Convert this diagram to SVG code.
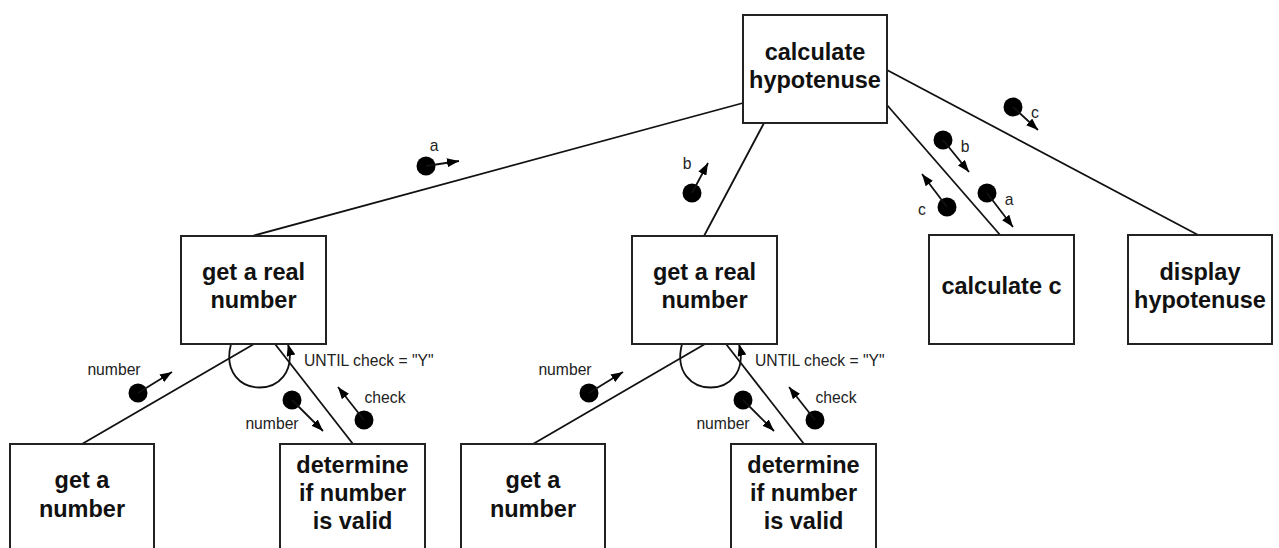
<svg xmlns="http://www.w3.org/2000/svg" width="1279" height="548" viewBox="0 0 1279 548">
<defs>
<style>
.box{fill:#fff;stroke:#222;stroke-width:2}
.t{font-family:"Liberation Sans",Arial,sans-serif;font-weight:bold;font-size:23.5px;fill:#111;text-anchor:middle}
.s{font-family:"Liberation Sans",Arial,sans-serif;font-size:15.7px;fill:#222}
.m{text-anchor:middle}
.ln{stroke:#111;stroke-width:1.8;fill:none}
.df{stroke:#111;stroke-width:1.8;fill:none;marker-end:url(#ah)}
.dot{fill:#000}
</style>
<marker id="ah" markerUnits="userSpaceOnUse" markerWidth="12" markerHeight="9" refX="12" refY="4.5" orient="auto">
<path d="M0,0 L12,4.5 L0,9 z" fill="#000"/>
</marker>
</defs>
<g id="connectors">
<line class="ln" x1="743" y1="103" x2="252" y2="236"/>
<line class="ln" x1="764" y1="123" x2="704" y2="236"/>
<line class="ln" x1="887" y1="105" x2="1001" y2="236"/>
<line class="ln" x1="887" y1="70" x2="1200" y2="236"/>
<line class="ln" x1="254" y1="344" x2="82" y2="444"/>
<line class="ln" x1="275" y1="344" x2="353" y2="444"/>
<line class="ln" x1="705" y1="344" x2="533" y2="444"/>
<line class="ln" x1="726" y1="344" x2="804" y2="444"/>
<path class="df" d="M231 344 C216 402 303 402 288 344"/>
<path class="df" d="M682 344 C667 402 754 402 739 344"/>
</g>
<g id="dataflows">
<circle class="dot" cx="426" cy="166" r="9.5"/><line class="df" x1="426" y1="166" x2="459" y2="161"/><text class="s m" x="434" y="151">a</text>
<circle class="dot" cx="692" cy="193" r="9.5"/><line class="df" x1="692" y1="193" x2="708" y2="163"/><text class="s m" x="687" y="169">b</text>
<circle class="dot" cx="1013" cy="107" r="9.5"/><line class="df" x1="1013" y1="107" x2="1038" y2="130"/><text class="s m" x="1035" y="118">c</text>
<circle class="dot" cx="943" cy="140" r="9.5"/><line class="df" x1="943" y1="140" x2="969" y2="172"/><text class="s m" x="965" y="152">b</text>
<circle class="dot" cx="987" cy="193" r="9.5"/><line class="df" x1="987" y1="193" x2="1013" y2="227"/><text class="s m" x="1009" y="205">a</text>
<circle class="dot" cx="947" cy="207" r="9.5"/><line class="df" x1="947" y1="207" x2="922" y2="174"/><text class="s m" x="922" y="215">c</text>
<circle class="dot" cx="138" cy="393" r="9.5"/><line class="df" x1="138" y1="393" x2="172" y2="372"/><text class="s m" x="114" y="375">number</text>
<circle class="dot" cx="292" cy="400" r="9.5"/><line class="df" x1="292" y1="400" x2="323" y2="431"/><text class="s m" x="272" y="429">number</text>
<circle class="dot" cx="364" cy="420" r="9.5"/><line class="df" x1="364" y1="420" x2="338" y2="387"/><text class="s m" x="385" y="403">check</text>
<text class="s" x="304" y="366">UNTIL check = "Y"</text>
<circle class="dot" cx="589" cy="393" r="9.5"/><line class="df" x1="589" y1="393" x2="623" y2="372"/><text class="s m" x="565" y="375">number</text>
<circle class="dot" cx="743" cy="400" r="9.5"/><line class="df" x1="743" y1="400" x2="774" y2="431"/><text class="s m" x="723" y="429">number</text>
<circle class="dot" cx="815" cy="420" r="9.5"/><line class="df" x1="815" y1="420" x2="789" y2="387"/><text class="s m" x="836" y="403">check</text>
<text class="s" x="755" y="366">UNTIL check = "Y"</text>
</g>
<g id="n-calc-hyp"><rect class="box" x="743" y="15" width="144" height="108"/><text class="t" x="815" y="60">calculate</text><text class="t" x="815" y="88">hypotenuse</text></g>
<g id="n-real1"><rect class="box" x="181" y="236" width="145" height="108"/><text class="t" x="253.5" y="280">get a real</text><text class="t" x="253.5" y="308">number</text></g>
<g id="n-real2"><rect class="box" x="632" y="236" width="145" height="108"/><text class="t" x="704.5" y="280">get a real</text><text class="t" x="704.5" y="308">number</text></g>
<g id="n-calc-c"><rect class="box" x="929" y="235" width="145" height="109"/><text class="t" x="1001.5" y="294">calculate c</text></g>
<g id="n-display"><rect class="box" x="1128" y="235" width="144" height="109"/><text class="t" x="1200" y="280">display</text><text class="t" x="1200" y="308">hypotenuse</text></g>
<g id="n-getnum1"><rect class="box" x="10" y="444" width="144" height="110"/><text class="t" x="82" y="488">get a</text><text class="t" x="82" y="517">number</text></g>
<g id="n-valid1"><rect class="box" x="280" y="444" width="145" height="110"/><text class="t" x="352.5" y="473">determine</text><text class="t" x="352.5" y="501">if number</text><text class="t" x="352.5" y="529">is valid</text></g>
<g id="n-getnum2"><rect class="box" x="461" y="444" width="144" height="110"/><text class="t" x="533" y="488">get a</text><text class="t" x="533" y="517">number</text></g>
<g id="n-valid2"><rect class="box" x="731" y="444" width="145" height="110"/><text class="t" x="803.5" y="473">determine</text><text class="t" x="803.5" y="501">if number</text><text class="t" x="803.5" y="529">is valid</text></g>
</svg>
